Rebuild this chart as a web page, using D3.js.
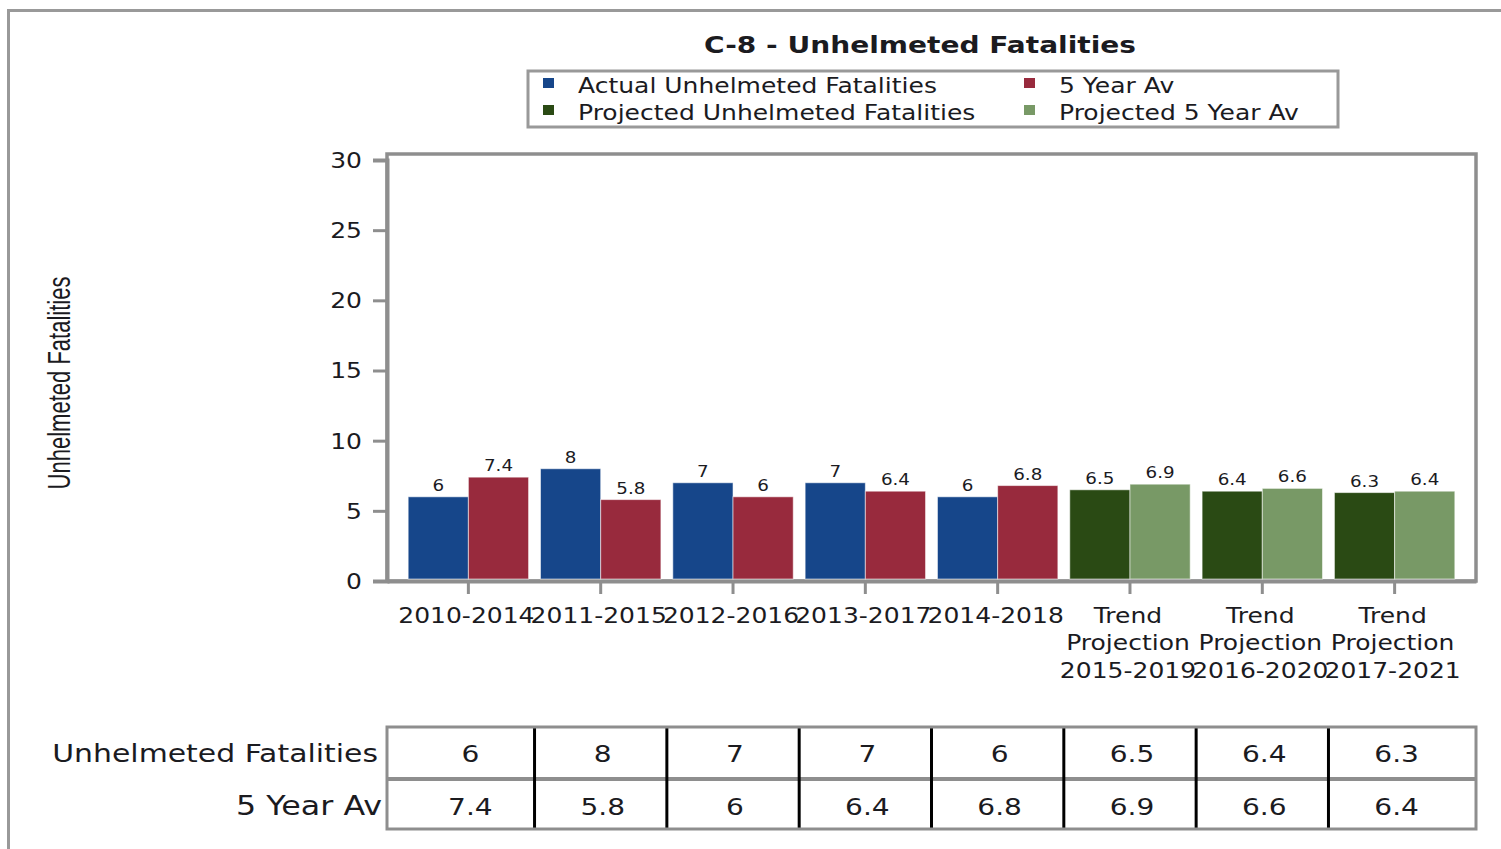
<!DOCTYPE html>
<html>
<head>
<meta charset="utf-8">
<script src="https://cdn.jsdelivr.net/npm/d3@7/dist/d3.min.js"></script>
<style>
  body { margin: 0; background: #fff; }
  text { font-family: "DejaVu Sans", Verdana, sans-serif; fill: #1b1b1f; }
</style>
</head>
<body>
<div id="chart"></div>
<script>
// data
var categories = ["2010-2014", "2011-2015", "2012-2016", "2013-2017", "2014-2018",
                  "Trend Projection 2015-2019", "Trend Projection 2016-2020", "Trend Projection 2017-2021"];
var categoryLines = [["2010-2014"], ["2011-2015"], ["2012-2016"], ["2013-2017"], ["2014-2018"],
                     ["Trend", "Projection", "2015-2019"], ["Trend", "Projection", "2016-2020"], ["Trend", "Projection", "2017-2021"]];
var actualFatalities    = [6, 8, 7, 7, 6, null, null, null];
var actualFiveYearAv    = [7.4, 5.8, 6, 6.4, 6.8, null, null, null];
var projectedFatalities = [null, null, null, null, null, 6.5, 6.4, 6.3];
var projectedFiveYearAv = [null, null, null, null, null, 6.9, 6.6, 6.4];
var yTicks = [0, 5, 10, 15, 20, 25, 30];
var tableRows = ["Unhelmeted Fatalities", "5 Year Av"];
var legendItems = ["Actual Unhelmeted Fatalities", "5 Year Av", "Projected Unhelmeted Fatalities", "Projected 5 Year Av"];

var colors = ["#16468a", "#982a3d", "#2a4a14", "#789966"];
var gray = "#8e8e8e";
var SX = 1.22; // the reference text is drawn wide

var width = 1501, height = 849;
var plot = {left: 387, right: 1476, top: 154, bottom: 581};

var svg = d3.select("#chart").append("svg")
    .attr("width", width)
    .attr("height", height);

function stext(g, x, y, txt, size, anchor) {
    return g.append("text")
        .attr("transform", "translate(" + x + "," + y + ") scale(" + SX + ",1)")
        .attr("text-anchor", anchor || "start")
        .style("font-size", size + "px")
        .text(txt);
}

// outer frame
svg.append("rect")
    .attr("x", 8.5).attr("y", 10.5)
    .attr("width", 1700).attr("height", 1000)
    .attr("fill", "none").attr("stroke", "#999").attr("stroke-width", 3);

// title
stext(svg, 920, 53, "C-8 - Unhelmeted Fatalities", 23, "middle").style("font-weight", "bold");

// legend
var legend = svg.append("g");
legend.append("rect")
    .attr("x", 528).attr("y", 71).attr("width", 810).attr("height", 56)
    .attr("fill", "none").attr("stroke", "#999").attr("stroke-width", 3);
legendItems.forEach(function(name, i) {
    var col = i % 2, row = Math.floor(i / 2);
    var lx = col == 0 ? 543 : 1024;
    var ly = row == 0 ? 78 : 105;
    legend.append("rect").attr("x", lx).attr("y", ly).attr("width", 11).attr("height", 10).attr("fill", colors[i]);
    stext(legend, lx + 35, ly + 15, name, 20.5, "start");
});

// scales
var y = d3.scaleLinear().domain([0, 30]).range([plot.bottom, 160]);
var x = d3.scaleBand().domain(categories)
    .range([plot.left, plot.right])
    .paddingInner(0.09).paddingOuter(0.16);
var sub = d3.scaleBand().domain([0, 1]).range([0, x.bandwidth()]);

// plot frame
svg.append("rect")
    .attr("x", plot.left).attr("y", plot.top)
    .attr("width", plot.right - plot.left).attr("height", plot.bottom - plot.top)
    .attr("fill", "none").attr("stroke", gray).attr("stroke-width", 3.5);

// y axis
var yAxis = svg.append("g")
    .attr("transform", "translate(" + plot.left + ",0)")
    .call(d3.axisLeft(y).tickValues(yTicks).tickSize(14).tickPadding(0));
yAxis.select(".domain").attr("stroke", gray).attr("stroke-width", 4);
yAxis.selectAll(".tick line").attr("stroke", gray).attr("stroke-width", 3);
yAxis.selectAll(".tick text")
    .attr("x", -25 / SX).attr("dy", "0.36em")
    .attr("transform", "scale(" + SX + ",1)")
    .style("font-size", "20.5px").style("font-family", null);

// x axis
var xAxis = svg.append("g")
    .attr("transform", "translate(0," + plot.bottom + ")")
    .call(d3.axisBottom(x).tickSize(13).tickSizeOuter(0));
xAxis.select(".domain").attr("stroke", gray).attr("stroke-width", 4);
xAxis.selectAll(".tick line").attr("stroke", gray).attr("stroke-width", 3);
xAxis.selectAll(".tick text").remove();
xAxis.selectAll(".tick").each(function(d, i) {
    var t = d3.select(this).append("text")
        .attr("text-anchor", "middle")
        .attr("transform", "scale(" + SX + ",1)")
        .style("font-size", "20.5px");
    categoryLines[i].forEach(function(line, k) {
        t.append("tspan").attr("x", -2 / SX).attr("y", 42 + k * 27.5).text(line);
    });
});

// bars
var series = [
    {vals: actualFatalities, slot: 0, color: colors[0]},
    {vals: actualFiveYearAv, slot: 1, color: colors[1]},
    {vals: projectedFatalities, slot: 0, color: colors[2]},
    {vals: projectedFiveYearAv, slot: 1, color: colors[3]}
];
series.forEach(function(s) {
    var pts = categories.map(function(c, i) { return {cat: c, v: s.vals[i]}; })
        .filter(function(p) { return p.v != null; });
    svg.append("g").selectAll("rect").data(pts).enter().append("rect")
        .attr("x", function(p) { return x(p.cat) + sub(s.slot); })
        .attr("y", function(p) { return y(p.v); })
        .attr("width", sub.bandwidth())
        .attr("height", function(p) { return y(0) - y(p.v) - 2; })
        .attr("fill", s.color)
        .attr("stroke", "rgba(255,255,255,0.55)")
        .attr("stroke-width", 1);
    var lg = svg.append("g");
    pts.forEach(function(p) {
        stext(lg, x(p.cat) + sub(s.slot) + sub.bandwidth() / 2, y(p.v) - 6, p.v, 15, "middle");
    });
});

// data table
var tTop = 727, tMid = 779, tBot = 829;
var table = svg.append("g");
var centers = categories.map(function(c) { return x(c) + x.bandwidth() / 2; });
var bounds = [plot.left];
for (var i = 0; i < centers.length - 1; i++) bounds.push((centers[i] + centers[i + 1]) / 2);
bounds.push(plot.right);

table.append("line")
    .attr("x1", plot.left).attr("x2", plot.right)
    .attr("y1", tMid).attr("y2", tMid)
    .attr("stroke", gray).attr("stroke-width", 4);
bounds.slice(1, -1).forEach(function(bx) {
    table.append("line")
        .attr("x1", bx).attr("x2", bx).attr("y1", tTop).attr("y2", tBot)
        .attr("stroke", "#000").attr("stroke-width", 3);
});
table.append("rect")
    .attr("x", plot.left).attr("y", tTop)
    .attr("width", plot.right - plot.left).attr("height", tBot - tTop)
    .attr("fill", "none").attr("stroke", gray).attr("stroke-width", 3);

var rowVals = [
    actualFatalities.map(function(v, i) { return v != null ? v : projectedFatalities[i]; }),
    actualFiveYearAv.map(function(v, i) { return v != null ? v : projectedFiveYearAv[i]; })
];
var rowBase = [762, 815];
var rowEnd = [378, 382];
var rowSize = [24.5, 26];
tableRows.forEach(function(name, r) {
    stext(table, rowEnd[r], rowBase[r], name, rowSize[r], "end");
    rowVals[r].forEach(function(v, i) {
        stext(table, centers[i] + 2, rowBase[r], v, 23, "middle");
    });
});

// y axis title
svg.append("text")
    .attr("transform", "translate(70,383) scale(" + SX + ",1) rotate(-90)")
    .attr("text-anchor", "middle")
    .attr("textLength", 213).attr("lengthAdjust", "spacingAndGlyphs")
    .style("font-family", "'Liberation Sans Narrow', 'Liberation Sans', Arial, sans-serif")
    .style("font-size", "26px")
    .text("Unhelmeted Fatalities");
</script>
</body>
</html>
